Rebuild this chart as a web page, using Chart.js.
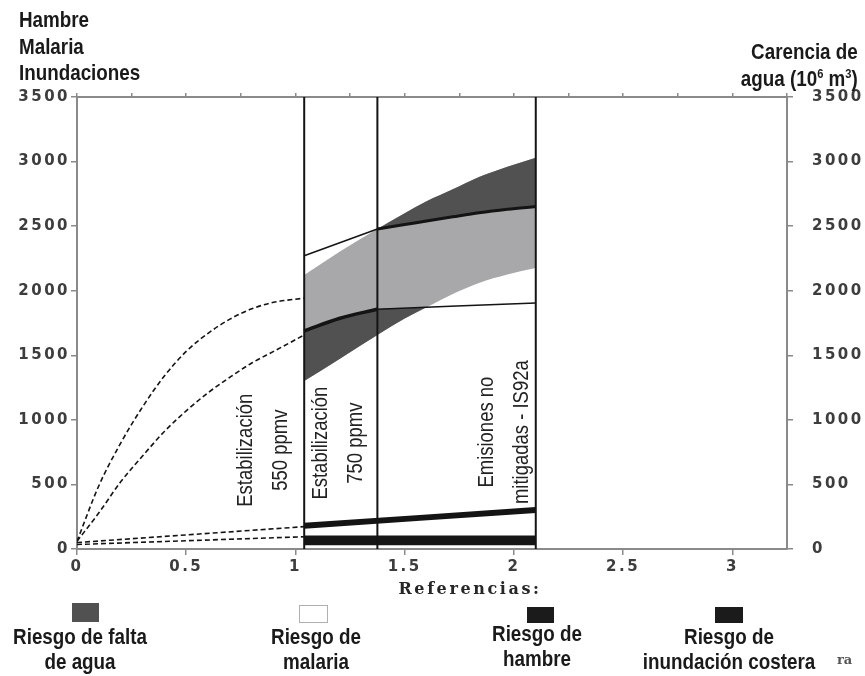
<!DOCTYPE html>
<html lang="es">
<head>
    <meta charset="UTF-8">
    <title>Riesgos: hambre, malaria, inundaciones y carencia de agua</title>
    <script src="https://cdn.jsdelivr.net/npm/chart.js"></script>
    <style>
        body { margin: 0; background: #fff; }
        #wrap { position: relative; width: 865px; height: 676px; overflow: hidden; }
        #chart { position: absolute; left: 0; top: 0; }
        .bold {
            position: absolute;
            font-family: "Liberation Sans", Arial, sans-serif;
            font-weight: bold;
            font-size: 22px;
            color: #1a1a1a;
            white-space: nowrap;
        }
        .bold sup { font-size: 13px; vertical-align: 8px; line-height: 0; }
        #titleLeft { left: 19px; top: 7px; line-height: 26.5px; transform: scaleX(0.855); transform-origin: left top; }
        #titleRight { right: 7px; top: 38px; line-height: 27px; text-align: right; transform: scaleX(0.855); transform-origin: right top; }
        .legendText { top: 624px; line-height: 25px; text-align: center; transform: translateX(-50%) scaleX(0.855); }
        .swatch { position: absolute; }
        #refs {
            position: absolute; left: 470px; top: 581px; transform: translateX(-50%);
            font-family: "DejaVu Serif", "Liberation Serif", serif; font-weight: bold;
            font-size: 16px; line-height: 16px; letter-spacing: 2.6px; color: #262626;
        }
        #ra {
            position: absolute; left: 837px; top: 652px;
            font-family: "DejaVu Serif", serif; font-weight: bold; font-size: 13px; color: #555;
        }
    </style>
</head>
<body>
<div id="wrap">
    <canvas id="chart" width="865" height="676"></canvas>
    <div id="titleLeft" class="bold">Hambre<br>Malaria<br>Inundaciones</div>
    <div id="titleRight" class="bold">Carencia de<br>agua (10<sup>6</sup> m<sup>3</sup>)</div>
    <div id="refs">Referencias:</div>
    <div class="swatch" style="left:72px;top:603px;width:27px;height:19px;background:#515151"></div>
    <div class="swatch" style="left:299px;top:605px;width:27px;height:16px;background:#fff;border:1.5px solid #b0b0b0"></div>
    <div class="swatch" style="left:527px;top:607px;width:27px;height:16px;background:#1b1b1b"></div>
    <div class="swatch" style="left:715px;top:607px;width:28px;height:16px;background:#1b1b1b"></div>
    <div class="bold legendText" style="left:80px">Riesgo de falta<br>de agua</div>
    <div class="bold legendText" style="left:316px">Riesgo de<br>malaria</div>
    <div class="bold legendText" style="left:537px;top:621px">Riesgo de<br>hambre</div>
    <div class="bold legendText" style="left:729px">Riesgo de<br>inundación costera</div>
    <div id="ra">ra</div>
</div>

<script>
    // axes
    const xMax = 3.25;
    const xTicks = [0, 0.5, 1, 1.5, 2, 2.5, 3];
    const xTopTicks = [0, 0.25, 0.5, 0.75, 1, 1.25, 1.5, 1.75, 2, 2.25, 2.5, 2.75, 3, 3.25];
    const yMax = 3500;

    // scenarios (vertical lines)
    const scenarioX = [1.04, 1.375, 2.1];
    const scenarioLabels = [
        ['Estabilización', '550 ppmv'],
        ['Estabilización', '750 ppmv'],
        ['Emisiones no', 'mitigadas - IS92a']
    ];
    const labelX = [0.855, 1.195, 1.955];
    const labelY = [765, 820, 905];

    // water shortage / malaria bands
    const bandX      = [1.04, 1.2, 1.375, 1.5, 1.6, 1.72, 1.84, 1.97, 2.1];
    const bandTop    = [2121, 2300, 2478, 2600, 2692, 2785, 2880, 2960, 3030];
    const bandBottom = [1300, 1470, 1657, 1785, 1872, 1975, 2060, 2125, 2175];
    // lower dark band top (first 5 points of bandX)
    const lowerDarkTop = [1690, 1785, 1857, 1865, 1872];
    // upper dark band bottom (bandX from 1.375)
    const upperDarkBottom = [2478, 2512, 2540, 2572, 2603, 2630, 2652];

    const malariaTopX = [1.04, 1.375];
    const malariaTop  = [2271, 2478];
    const thickLineX  = [1.04, 1.2, 1.375];
    const thickLine   = [1690, 1785, 1857];
    const thinLineX   = [1.375, 2.1];
    const thinLine    = [1857, 1905];

    // hunger line and coastal flood band
    const hungerX = [1.04, 2.1];
    const hunger  = [180, 302];
    const floodX  = [1.04, 2.1];
    const floodTop = [105, 105];
    const floodBase = 30;

    // dashed curves from the origin
    const dashX      = [0, 0.1, 0.2, 0.3, 0.4, 0.5, 0.6, 0.7, 0.8, 0.9, 1.04];
    const dashUpper  = [60, 490, 820, 1100, 1340, 1530, 1670, 1780, 1860, 1910, 1943];
    const dashLower  = [60, 280, 520, 720, 910, 1070, 1210, 1330, 1440, 1530, 1657];
    const dashHungerX = [0, 1.04];
    const dashHunger  = [50, 173];
    const dashFloodX  = [0, 1.04];
    const dashFlood   = [35, 95];

    const pts = (xs, ys) => xs.map((x, i) => ({ x: x, y: ys[i] }));
    const none = 'rgba(0,0,0,0)';
    const ink = '#141414';
    const darkGray = '#515151';
    const lightGray = '#a8a8aa';

    function area(data, fill, color, order) {
        return { data: data, fill: fill, backgroundColor: color, borderColor: none, borderWidth: 0, order: order };
    }
    function line(data, width, order, dash) {
        return { data: data, fill: false, borderColor: ink, borderWidth: width, borderDash: dash || [], order: order };
    }

    const datasets = [
        area(pts(bandX, bandTop), 1, lightGray, 10),                               // 0
        area(pts(bandX, bandBottom), false, none, 10),                             // 1
        area(pts(bandX.slice(0, 5), lowerDarkTop), 3, darkGray, 9),                // 2
        area(pts(bandX.slice(0, 5), bandBottom.slice(0, 5)), false, none, 9),      // 3
        area(pts(bandX.slice(2), bandTop.slice(2)), 5, darkGray, 9),               // 4
        line(pts(bandX.slice(2), upperDarkBottom), 3, 2),                          // 5
        line(pts(malariaTopX, malariaTop), 1.5, 2),
        line(pts(thickLineX, thickLine), 3.5, 2),
        line(pts(thinLineX, thinLine), 1.5, 2),
        line(pts(hungerX, hunger), 6, 2),
        area(pts(floodX, floodTop), { value: floodBase }, '#161616', 2),
        line(pts(dashX, dashUpper), 1.6, 3, [5, 3]),
        line(pts(dashX, dashLower), 1.6, 3, [5, 3]),
        line(pts(dashHungerX, dashHunger), 1.6, 3, [5, 3]),
        line(pts(dashFloodX, dashFlood), 1.6, 3, [5, 3])
    ];
    scenarioX.forEach(x => datasets.push(line(pts([x, x], [0, yMax]), 2, 0)));
    datasets.forEach(d => {
        d.showLine = true;
        d.pointRadius = 0;
        d.cubicInterpolationMode = 'monotone';
    });

    const tickFont = { family: '"DejaVu Sans", sans-serif', size: 15, weight: 'bold' };
    const tickColor = '#3d3d3d';
    const axisGray = '#8a8a8a';

    const scenarioText = {
        id: 'scenarioText',
        beforeUpdate(chart) { chart.ctx.letterSpacing = '2.5px'; },
        beforeDraw(chart) { chart.ctx.letterSpacing = '2.5px'; },
        afterDatasetsDraw(chart) {
            const ctx = chart.ctx;
            const xs = chart.scales.x, ys = chart.scales.y;
            ctx.save();
            ctx.letterSpacing = '0px';
            ctx.font = '22px "Liberation Sans", sans-serif';
            ctx.fillStyle = '#222';
            ctx.textAlign = 'center';
            ctx.textBaseline = 'middle';
            scenarioLabels.forEach((lines, i) => {
                ctx.save();
                ctx.translate(xs.getPixelForValue(labelX[i]), ys.getPixelForValue(labelY[i]));
                ctx.rotate(-Math.PI / 2);
                ctx.scale(0.84, 1);
                lines.forEach((t, j) => ctx.fillText(t, 0, (j - (lines.length - 1) / 2) * 35));
                ctx.restore();
            });
            ctx.restore();
        }
    };

    const num = v => String(v);

    new Chart(document.getElementById('chart'), {
        type: 'scatter',
        data: { datasets: datasets },
        plugins: [scenarioText],
        options: {
            responsive: false,
            animation: false,
            layout: { padding: { left: 0, right: 0, top: 97, bottom: 97 } },
            plugins: { legend: { display: false }, tooltip: { enabled: false } },
            scales: {
                x: {
                    type: 'linear', position: 'bottom', min: 0, max: xMax,
                    afterBuildTicks: s => { s.ticks = xTicks.map(v => ({ value: v })); },
                    afterFit: s => { s.height = 30; },
                    ticks: { font: tickFont, color: tickColor, padding: 3, maxRotation: 0, callback: num },
                    grid: { drawOnChartArea: false, tickLength: 6, color: axisGray, lineWidth: 1.5 },
                    border: { color: axisGray, width: 2 }
                },
                xTop: {
                    type: 'linear', position: 'top', min: 0, max: xMax,
                    afterBuildTicks: s => { s.ticks = xTopTicks.map(v => ({ value: v })); },
                    afterFit: s => { s.height = 0; },
                    ticks: { display: false },
                    grid: { drawOnChartArea: false, tickLength: 4, color: axisGray, lineWidth: 1.5 },
                    border: { color: axisGray, width: 2 }
                },
                y: {
                    position: 'left', min: 0, max: yMax,
                    afterFit: s => { s.width = 77; },
                    ticks: { stepSize: 500, font: tickFont, color: tickColor, padding: 1, callback: num },
                    grid: { drawOnChartArea: false, tickLength: 6, color: axisGray, lineWidth: 1.5 },
                    border: { color: axisGray, width: 2 }
                },
                y2: {
                    position: 'right', min: 0, max: yMax,
                    afterFit: s => { s.width = 78; },
                    ticks: { stepSize: 500, font: tickFont, color: tickColor, padding: 19, callback: num },
                    grid: { drawOnChartArea: false, tickLength: 6, color: axisGray, lineWidth: 1.5 },
                    border: { color: axisGray, width: 2 }
                }
            }
        }
    });
</script>
</body>
</html>
